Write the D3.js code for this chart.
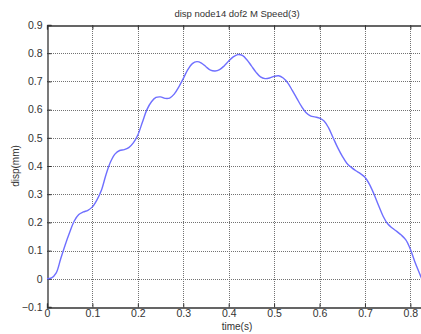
<!DOCTYPE html>
<html><head><meta charset="utf-8">
<script src="https://cdn.jsdelivr.net/npm/d3@7"></script>
<style>body{margin:0;background:#fff}svg{display:block}text{font-family:"Liberation Sans",Arial,sans-serif;fill:#333}</style>
</head><body><div id="c"></div>
<script>
const times = [0,0.01,0.02,0.03,0.04,0.05,0.06,0.07,0.08,0.09,0.10,0.11,0.12,0.13,0.14,0.15,0.16,0.17,0.18,0.19,0.20,0.21,0.22,0.23,0.24,0.25,0.26,0.27,0.28,0.29,0.30,0.31,0.32,0.33,0.34,0.35,0.36,0.37,0.38,0.39,0.40,0.41,0.42,0.43,0.44,0.45,0.46,0.47,0.48,0.49,0.50,0.51,0.52,0.53,0.54,0.55,0.56,0.57,0.58,0.59,0.60,0.61,0.62,0.63,0.64,0.65,0.66,0.67,0.68,0.69,0.70,0.71,0.72,0.73,0.74,0.75,0.76,0.77,0.78,0.79,0.80,0.81,0.82,0.83];
const disp = [0,0.003,0.02,0.07,0.12,0.165,0.205,0.228,0.237,0.243,0.255,0.28,0.315,0.37,0.415,0.443,0.455,0.458,0.465,0.482,0.51,0.555,0.6,0.628,0.643,0.645,0.64,0.641,0.655,0.68,0.71,0.742,0.763,0.77,0.765,0.752,0.74,0.737,0.742,0.755,0.772,0.787,0.795,0.792,0.777,0.755,0.733,0.716,0.71,0.712,0.718,0.72,0.712,0.695,0.668,0.64,0.612,0.59,0.578,0.574,0.57,0.56,0.535,0.5,0.465,0.435,0.41,0.395,0.383,0.373,0.36,0.335,0.3,0.26,0.222,0.195,0.18,0.168,0.155,0.138,0.105,0.06,0.02,-0.02];
const xTicks = [0,0.1,0.2,0.3,0.4,0.5,0.6,0.7,0.8];
const yTicks = [-0.1,0,0.1,0.2,0.3,0.4,0.5,0.6,0.7,0.8,0.9];
const title = "disp node14 dof2 M Speed(3)";
const xLabel = "time(s)";
const yLabel = "disp(mm)";

const W=421,H=334;
const svg=d3.select("#c").append("svg").attr("width",W).attr("height",H);
const x=d3.scaleLinear().domain([0,0.83]).range([47,424]);
const y=d3.scaleLinear().domain([-0.1,0.9]).range([307,25]);

const grid=svg.append("g").attr("stroke","#444").attr("stroke-width",1).attr("stroke-dasharray","1,1").attr("opacity",0.75);
xTicks.filter(d=>d>0).forEach(d=>grid.append("line").attr("x1",Math.round(x(d))+0.5).attr("x2",Math.round(x(d))+0.5).attr("y1",25).attr("y2",307));
yTicks.filter(d=>d>-0.1&&d<0.9).forEach(d=>grid.append("line").attr("x1",47).attr("x2",W).attr("y1",Math.round(y(d))+0.5).attr("y2",Math.round(y(d))+0.5));

const xa=svg.append("g").attr("transform","translate(0,307.5)")
  .call(d3.axisBottom(x).tickValues(xTicks).tickSize(-4).tickPadding(2).tickFormat(d=>d===0?"0":d3.format(".1f")(d)));
const xt=svg.append("g").attr("transform","translate(0,25.5)")
  .call(d3.axisTop(x).tickValues(xTicks).tickSize(-4).tickFormat(""));
const ya=svg.append("g").attr("transform","translate(47.5,0)")
  .call(d3.axisLeft(y).tickValues(yTicks).tickSize(-4).tickPadding(5).tickFormat(d=>Math.abs(d)<1e-9?"0":d3.format(".1f")(d).replace("-","\u2212")));
[xa,xt,ya].forEach(g=>{g.select(".domain").attr("stroke","#333").attr("stroke-width",1.3);g.selectAll(".tick line").attr("stroke","#333");g.selectAll("text").attr("font-size",10.5).attr("fill","#333").attr("font-family","Liberation Sans, Arial, sans-serif");});
xa.selectAll("text").attr("y",2).attr("dy","0.71em");

const line=d3.line().x((d,i)=>x(times[i])).y(d=>y(d)).curve(d3.curveCatmullRom.alpha(0.5));
svg.append("path").datum(disp).attr("d",line).attr("fill","none").attr("stroke","#6f6fff").attr("stroke-width",1.4);

svg.append("text").attr("x",237).attr("y",17).attr("text-anchor","middle").attr("font-size",9.5).text(title);
svg.append("text").attr("x",237).attr("y",330).attr("text-anchor","middle").attr("font-size",10).text(xLabel);
svg.append("text").attr("transform","translate(19,166) rotate(-90)").attr("text-anchor","middle").attr("font-size",10).text(yLabel);
</script></body></html>
